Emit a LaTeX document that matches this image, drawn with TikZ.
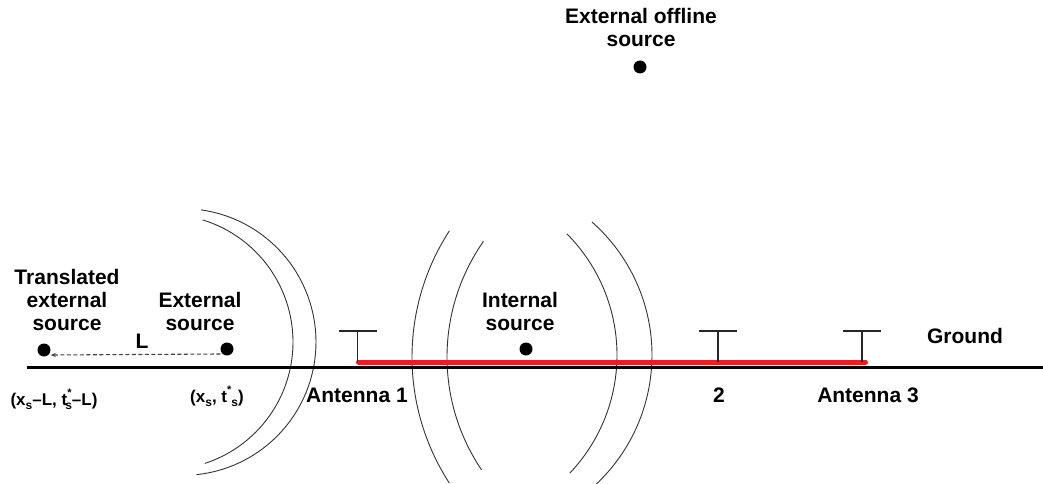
\documentclass[tikz,border=0pt]{standalone}
\usepackage{fontspec}
\setmainfont{Liberation Sans}
\usetikzlibrary{arrows.meta}
\definecolor{gred}{RGB}{237,28,36}
\newcommand{\lowsub}[1]{\raisebox{-0.55ex}{\fontsize{12}{12}\selectfont #1}}
\newcommand{\highsup}[1]{\raisebox{0.9ex}{\fontsize{11}{11}\selectfont #1}}
\begin{document}
\begin{tikzpicture}[x=1pt,y=-1pt,
  lbl/.style={font=\fontsize{21}{23}\selectfont\bfseries, inner sep=0pt, align=center, anchor=base},
  coordlbl/.style={font=\fontsize{17}{19}\selectfont\bfseries, inner sep=0pt, anchor=base},
  dot/.style={circle, fill=black, inner sep=0pt, minimum size=13pt},
  wave/.style={line width=0.9pt, draw=black!80},
  antenna/.style={line width=1.2pt, draw=black!85},
  ground/.style={line width=3pt, draw=black},
  segment/.style={line width=5pt, draw=gred, line cap=round},
  translink/.style={dash pattern=on 4pt off 2.5pt, line width=1.1pt, draw=black!75, -{Stealth[length=5pt,width=4pt]}},
]
\useasboundingbox (0,0) rectangle (1043,484);

% wavefronts
\draw[wave] plot[domain=-73:72, samples=60] ({165.3+127.7*cos(\x)},{342+127.7*sin(\x)});
\draw[wave] plot[domain=-82:84, samples=60] ({182.6+133.4*cos(\x)},{342+133.4*sin(\x)});
\draw[wave] plot[domain=147:213, samples=60] ({643.6+231.6*cos(\x)},{357+231.6*sin(\x)});
\draw[wave] plot[domain=146:215, samples=60] ({648.7+201.7*cos(\x)},{357+201.7*sin(\x)});
\draw[wave] plot[domain=-45:43.5, samples=60] ({445.6+171.4*cos(\x)},{355+171.4*sin(\x)});
\draw[wave] plot[domain=-48.6:47, samples=60] ({474.6+177.4*cos(\x)},{355+177.4*sin(\x)});

% ground
\coordinate (g0) at (27,367);
\coordinate (g1) at (1043,367);
\draw[ground] (g0) -- (g1);

% red segment
\coordinate (r0) at (358.5,362);
\coordinate (r1) at (865.5,362);
\draw[segment] (r0) -- (r1);

% antennas
\coordinate (a1b) at (357.7,362); \coordinate (a1t) at (357.7,331);
\coordinate (a2b) at (718,362);   \coordinate (a2t) at (718,331);
\coordinate (a3b) at (862,362);   \coordinate (a3t) at (862,331);
\foreach \a in {a1,a2,a3}{
  \draw[antenna] (\a b) -- (\a t);
  \draw[antenna] (\a t) ++(-19,0) -- ++(38,0);
}

% sources
\node[dot] (tra) at (44,350) {};
\node[dot] (ext) at (227,349) {};
\node[dot] (int) at (526,349) {};
\node[dot] (off) at (640,67) {};

\draw[translink] ([yshift=-5pt]ext.west) -- ([yshift=-5pt]tra.east);

% labels (anchor=base = baseline of the last line)
\node[lbl] (offl) at (641,47) {External offline\\source};
\node[lbl] (tral) at (67,330) {Translated\\external\\source};
\node[lbl] (extl) at (200,330) {External\\source};
\node[lbl] (intl) at (520,330) {Internal\\source};
\node[lbl] (L) at (142,348) {L};
\node[lbl] (gnd) at (965,343) {Ground};
\node[lbl] (ant1) at (357,402) {Antenna 1};
\node[lbl] (ant2) at (719,402) {2};
\node[lbl] (ant3) at (868,402) {Antenna 3};
\node[coordlbl] (c1) at (54,405) {(x\lowsub{s}–L, t\rlap{\highsup{*}}\kern-2pt\lowsub{s}–L)};
\node[coordlbl] (c2) at (217,402) {(x\lowsub{s}, t\highsup{*}\lowsub{s})};
\end{tikzpicture}
\end{document}
